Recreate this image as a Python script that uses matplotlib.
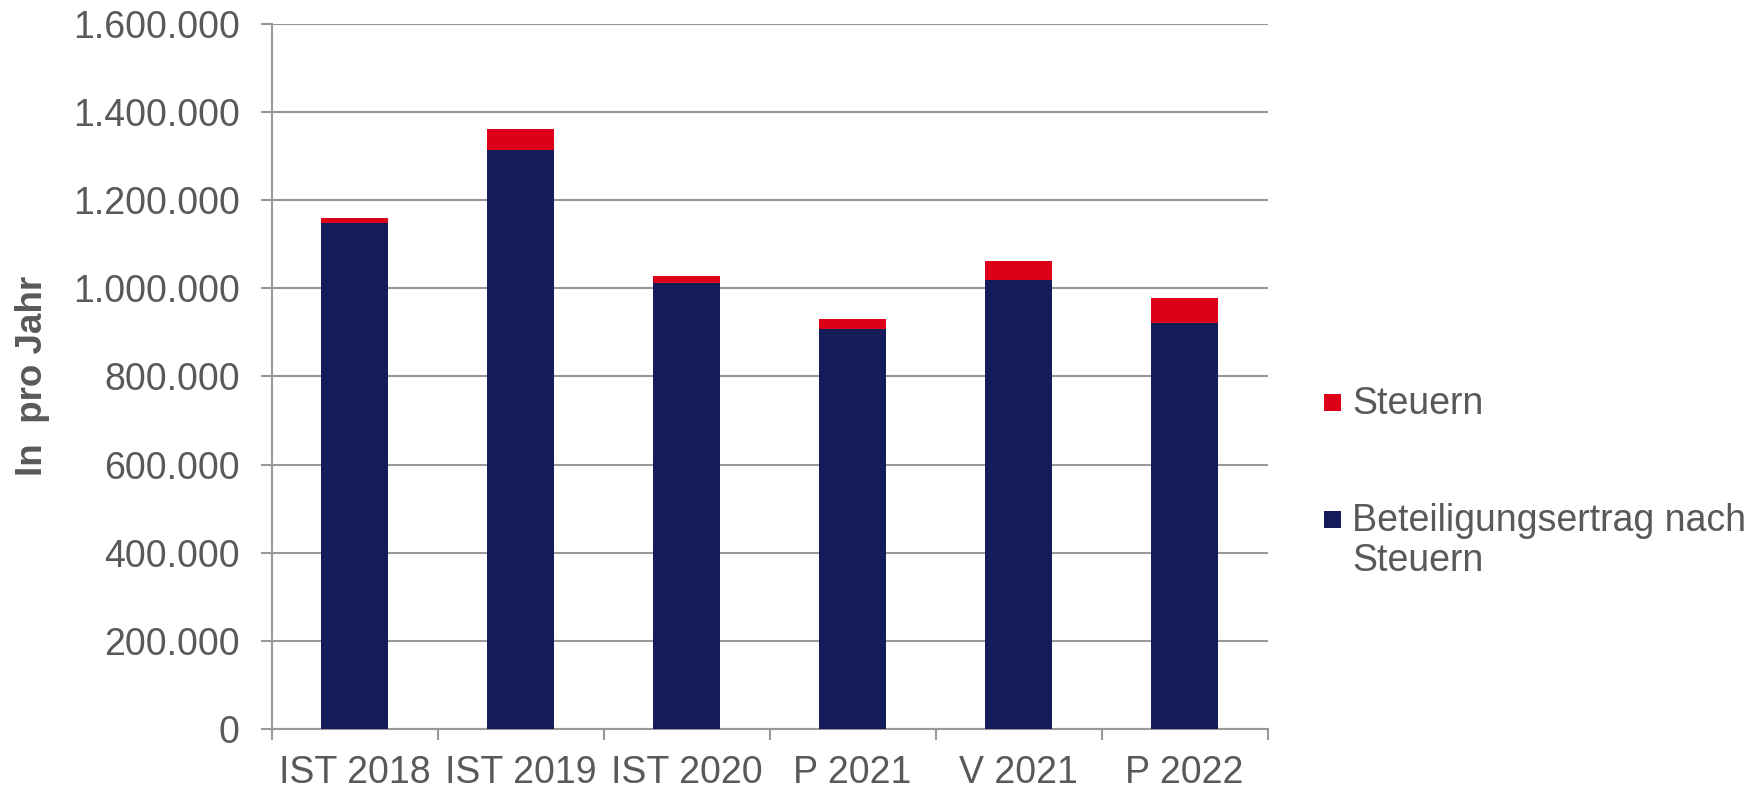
import matplotlib.pyplot as plt
from matplotlib.ticker import FuncFormatter
from matplotlib.patches import Rectangle
import numpy as np

plt.rcParams['font.family'] = ['Liberation Sans', 'DejaVu Sans']

categories = ['IST 2018', 'IST 2019', 'IST 2020', 'P 2021', 'V 2021', 'P 2022']
nach_steuern = [1148000, 1313000, 1011000, 907000, 1019000, 922000]
steuern = [11000, 47000, 16000, 22000, 42000, 55000]

NAVY = '#141C5A'
RED = '#DC0019'
GREY = '#595959'
GRID = '#999999'

W, H = 1759, 790
fig = plt.figure(figsize=(W / 100, H / 100), dpi=100)
ax = fig.add_axes([0.1544, 0.0772, 0.7206 - 0.1544, 0.970 - 0.0772])

x = np.arange(len(categories))
ax.bar(x, nach_steuern, width=0.4, color=NAVY, zorder=3)
ax.bar(x, steuern, width=0.4, bottom=nach_steuern, color=RED, zorder=3)

ax.set_xlim(-0.5, len(categories) - 0.5)
ax.set_ylim(0, 1600000)
ax.set_yticks(np.arange(0, 1600001, 200000))
ax.yaxis.set_major_formatter(FuncFormatter(lambda v, p: f'{int(v):,}'.replace(',', '.')))
ax.grid(axis='y', color=GRID, linewidth=1.5, zorder=0)

ax.set_xticks(x)
ax.set_xticklabels(categories)
ax.set_xticks(np.arange(-0.5, len(categories), 1), minor=True)
ax.tick_params(axis='x', which='major', length=0, pad=19, labelsize=27, labelcolor=GREY)
ax.tick_params(axis='x', which='minor', length=8, width=1.5, color=GRID)
ax.tick_params(axis='y', length=8, width=1.5, color=GRID, labelsize=27, labelcolor=GREY, pad=15)

for s in ['top', 'right']:
    ax.spines[s].set_visible(False)
for s in ['left', 'bottom']:
    ax.spines[s].set_color(GRID)
    ax.spines[s].set_linewidth(1.5)

ax.set_ylabel('In  pro Jahr', fontsize=26.5, fontweight='bold', color=GREY)
ax.yaxis.set_label_coords(-0.222, 0.5)

# legend, drawn by hand so the square sits on the first text line
legend_items = [('Steuern', RED, 402), ('Beteiligungsertrag nach\nSteuern', NAVY, 519)]
for label, col, yc in legend_items:
    sq = 17
    fig.add_artist(Rectangle((1324 / W, 1 - (yc + sq / 2) / H), sq / W, sq / H,
                             transform=fig.transFigure, color=col, lw=0))
    fig.text(1352 / W, 1 - (yc - 16) / H, label, fontsize=27, color=GREY,
             va='top', ha='left', linespacing=1.15)

fig.savefig('out.png', dpi=100)
